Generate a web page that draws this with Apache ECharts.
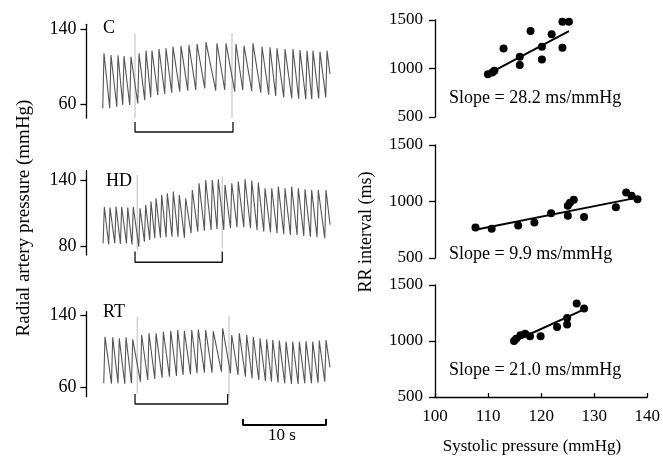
<!DOCTYPE html>
<html>
<head>
<meta charset="utf-8">
<script src="https://cdn.jsdelivr.net/npm/echarts@6/dist/echarts.min.js"></script>
<style>html,body{margin:0;padding:0;background:#fff;}#c{width:663px;height:458px;}</style>
</head>
<body>
<div id="c"></div>
<script>
// ---------- Pressure traces (beat peak times in s, systolic peaks, diastolic troughs, mmHg) ----------
const cTimes = [0.12,0.96,1.81,2.53,3.37,4.34,5.18,5.90,6.75,7.59,8.43,9.40,10.36,11.33,12.41,13.73,14.82,16.02,16.99,18.07,19.16,20.12,20.96,21.93,22.89,23.73,24.58,25.30,26.14,26.99];
const cSys   = [114,112.3,112,111,110.5,114,116.9,117,118.7,119.4,121.1,121.9,122.9,124,126,124.7,124.7,124,121.9,124.7,121.1,120.5,119.4,118.7,118.7,117.6,116.9,116.9,115.8,116.9];
const cDia   = [55.4,55.4,57,58.9,58.9,60.5,64,67,69.6,70.7,72.1,73.2,74.2,74.9,76.7,74.2,74.9,73.2,74.9,74,72,70,68.5,67,66,65.5,65,65,66,67];
const cEnd   = [27.35, 92];

const hdTimes = [0.16,0.84,1.57,2.25,2.98,3.65,4.46,5.14,5.78,6.39,7.07,7.75,8.47,9.19,9.96,10.76,11.57,12.37,13.17,13.89,14.70,15.51,16.30,17.11,17.92,18.71,19.52,20.33,21.12,21.93,22.73,23.53,24.34,25.14,25.94,26.87];
const hdSys   = [116,115.5,116.5,116,115.5,116,114.8,117.9,120.9,124,127,128.5,130,127,124,131.5,137.6,140.6,140.6,141.2,136.1,137.6,139.1,141.2,140,138.2,133.1,133.1,134.6,133.1,134.6,133.1,132.2,131.5,131.5,131.5];
const hdDia   = [83,82,83,82.5,83,82,80,84.5,86,87.6,88.2,88.5,89,89,88,92.2,93.7,94.6,95.2,95.8,95.2,96.7,97.6,97.6,96.7,95.2,93.7,92.8,92.2,91.5,90.6,90.6,89.7,89.1,88.5,87.6];
const hdEnd   = [27.35, 100];

const rtTimes = [0.24,1.17,1.96,2.77,3.58,4.66,5.54,6.39,7.27,8.16,9.00,9.80,10.69,11.48,12.37,13.29,14.42,15.51,16.42,17.31,18.11,18.92,19.72,20.45,21.24,22.05,22.86,23.66,24.46,25.27,26.06,26.87];
const rtSys   = [116,115.3,114.2,115.3,113.1,117.9,119.7,119.7,121.5,122.6,123.4,122.6,123.4,124.1,123.4,122,125.2,117.9,119.7,117.9,116,114.2,113.1,112.4,111.7,110.5,110.5,110.5,111,110.5,111.7,112.4];
const rtDia   = [64.4,64,64.4,64,64.4,66.2,68.1,69.2,70.7,71.8,72.5,73.6,74.4,75.5,76.2,76.2,77.3,75.5,73.6,71.8,70,68.1,67,66.2,65.1,64.4,63.6,63.6,64.4,64.4,65.1,66.2];
const rtEnd   = [27.35, 82];

// stimulus artefacts [time, low, high]
const cSpikes  = [[3.86,45,135.4],[15.54,45,135.4]];
const hdSpikes = [[4.13,77,145],[14.37,78.5,143.6]];
const rtSpikes = [[4.13,53.4,138],[15.18,49.6,138.9]];

// brackets [t1, t2, topValue, bottomValue]
const cBracket  = [3.86, 15.66, 40.8, 30.1];
const hdBracket = [3.86, 14.37, 75.5, 65.8];
const rtBracket = [3.86, 15.02, 52.6, 41.5];
const scaleBar  = [16.87, 26.87, 25, 18.3];  // 10 s

const panelNames = ['C','HD','RT'];

// ---------- Scatter: systolic pressure (mmHg) vs RR interval (ms) ----------
const cSbp  = [109.8,110.6,111,112.7,115.7,115.7,117.7,119.8,119.8,121.6,123.6,123.6,124.8];
const cRR   = [942,960,976,1207,1121,1035,1386,1224,1093,1352,1483,1214,1483];
const cFit  = [[109.5,935],[124.8,1385]];

const hdSbp = [107.5,110.5,115.4,118.4,121.5,124.6,124.6,125,125.7,127.6,133.5,135.4,136.4,137.5];
const hdRR  = [770,758,788,814,897,873,962,990,1015,862,950,1080,1050,1021];
const hdFit = [[107.5,750],[137,1030]];

const rtSbp = [114.9,115.3,116.1,117,117.9,119.9,123,124.9,124.9,126.7,128.1];
const rtRR  = [1000,1020,1051,1065,1042,1042,1125,1148,1206,1335,1290];
const rtFit = [[114.6,991],[128.1,1282]];

const slopeLabels = ['Slope = 28.2 ms/mmHg','Slope = 9.9 ms/mmHg','Slope = 21.0 ms/mmHg'];
const xTicks = [100,110,120,130,140];

// ---------- build ----------
const FONT = '"Liberation Serif","DejaVu Serif",serif';
const UP = 0.15;
function trace(times, sys, dia, end){
  const p = [];
  for (let i=0;i<times.length;i++){ p.push([times[i]-UP, dia[i]]); p.push([times[i], sys[i]]); }
  p.push(end);
  return p;
}
function zip(a,b){ return a.map((v,i)=>[v,b[i]]); }
const plain = v => String(v);

const leftGrids = [
  {left:86.4, width:244.85, top:24.3, height:93.75},
  {left:86.4, width:244.85, top:170.7, height:84.2},
  {left:86.4, width:244.85, top:311.7, height:85}
];
const leftY = [[45,145,[60,140]],[72.5,149,[80,140]],[49.6,143.7,[60,140]]];
const rightGrids = [
  {left:435, width:216, top:20, height:97},
  {left:435, width:216, top:145, height:113},
  {left:435, width:216, top:285, height:112}
];

const grid = leftGrids.concat(rightGrids);
const xAxis = [], yAxis = [], series = [];
leftY.forEach((y,i)=>{
  xAxis.push({gridIndex:i, type:'value', min:-2, max:27.5, show:false});
  yAxis.push({gridIndex:i, type:'value', min:y[0], max:y[1], position:'left',
    axisLine:{show:true, onZero:false, lineStyle:{color:'#000', width:1.3}},
    axisTick:{show:true, customValues:y[2], length:6, lineStyle:{color:'#000', width:1.3}},
    axisLabel:{customValues:y[2], formatter:plain, color:'#000', fontFamily:FONT, fontSize:18, margin:10},
    splitLine:{show:false}});
});
for (let i=0;i<3;i++){
  const bottom = i===2;
  xAxis.push({gridIndex:3+i, type:'value', min:100, max:140, interval:10, show:bottom, position:'bottom',
    axisLine:{show:true, onZero:false, lineStyle:{color:'#000', width:1.3}},
    axisTick:{show:true, inside:true, length:4, lineStyle:{color:'#000', width:1.3}},
    axisLabel:{color:'#000', formatter:plain, fontFamily:FONT, fontSize:17, margin:11},
    splitLine:{show:false}});
  yAxis.push({gridIndex:3+i, type:'value', min:500, max:1500, interval:500, position:'left',
    axisLine:{show:true, onZero:false, lineStyle:{color:'#000', width:1.3}},
    axisTick:{show:true, length:6, lineStyle:{color:'#000', width:1.3}},
    axisLabel:{color:'#000', formatter:plain, fontFamily:FONT, fontSize:17, margin:12},
    splitLine:{show:false}});
}

const traces = [trace(cTimes,cSys,cDia,cEnd), trace(hdTimes,hdSys,hdDia,hdEnd), trace(rtTimes,rtSys,rtDia,rtEnd)];
const spikes = [cSpikes, hdSpikes, rtSpikes];
const brackets = [cBracket, hdBracket, rtBracket];
traces.forEach((d,i)=>{
  spikes[i].forEach(s=>{
    series.push({type:'line', xAxisIndex:i, yAxisIndex:i, data:[[s[0],s[1]],[s[0],s[2]]], symbol:'none', silent:true,
      lineStyle:{color:'#c8c8c8', width:1.2}, clip:false, z:1});
  });
  series.push({type:'line', xAxisIndex:i, yAxisIndex:i, data:d, symbol:'none', silent:true,
    lineStyle:{color:'#555', width:1.1}, z:2});
  const b = brackets[i];
  series.push({type:'line', xAxisIndex:i, yAxisIndex:i, data:[[b[0],b[2]],[b[0],b[3]],[b[1],b[3]],[b[1],b[2]]],
    symbol:'none', silent:true, clip:false, lineStyle:{color:'#111', width:1.3}});
});
series.push({type:'line', xAxisIndex:2, yAxisIndex:2, data:[[scaleBar[0],scaleBar[2]],[scaleBar[0],scaleBar[3]],[scaleBar[1],scaleBar[3]],[scaleBar[1],scaleBar[2]]],
  symbol:'none', silent:true, clip:false, lineStyle:{color:'#000', width:2}});

const scat = [[cSbp,cRR,cFit],[hdSbp,hdRR,hdFit],[rtSbp,rtRR,rtFit]];
scat.forEach((s,i)=>{
  series.push({type:'line', xAxisIndex:3+i, yAxisIndex:3+i, data:s[2], symbol:'none', silent:true,
    lineStyle:{color:'#000', width:2}, z:3});
  series.push({type:'scatter', xAxisIndex:3+i, yAxisIndex:3+i, data:zip(s[0],s[1]), symbol:'circle', symbolSize:8,
    itemStyle:{color:'#000', opacity:1}, silent:true, z:4});
});

const txt = (text, x, y, size, opts) => Object.assign({type:'text', x, y,
  style:{text, fill:'#000', font: size+'px '+FONT, align:'left', verticalAlign:'middle'}}, opts||{});
const graphic = [
  txt(panelNames[0], 103, 28, 18),
  txt(panelNames[1], 106, 181, 18),
  txt(panelNames[2], 103, 312, 18),
  txt('10 s', 268, 436, 17),
  txt(slopeLabels[0], 449, 98, 18),
  txt(slopeLabels[1], 449, 254, 18),
  txt(slopeLabels[2], 449, 370, 18),
  {type:'text', x:24, y:218, rotation:Math.PI/2, style:{text:'Radial artery pressure (mmHg)', fill:'#000', font:'19px '+FONT, align:'center', verticalAlign:'middle'}},
  {type:'text', x:366, y:232, rotation:Math.PI/2, style:{text:'RR interval (ms)', fill:'#000', font:'18px '+FONT, align:'center', verticalAlign:'middle'}},
  {type:'text', x:532, y:447, style:{text:'Systolic pressure (mmHg)', fill:'#000', font:'17px '+FONT, align:'center', verticalAlign:'middle'}}
];

const chart = echarts.init(document.getElementById('c'), null, {renderer:'canvas'});
chart.setOption({animation:false, backgroundColor:'#fff', grid, xAxis, yAxis, series, graphic});
</script>
</body>
</html>
